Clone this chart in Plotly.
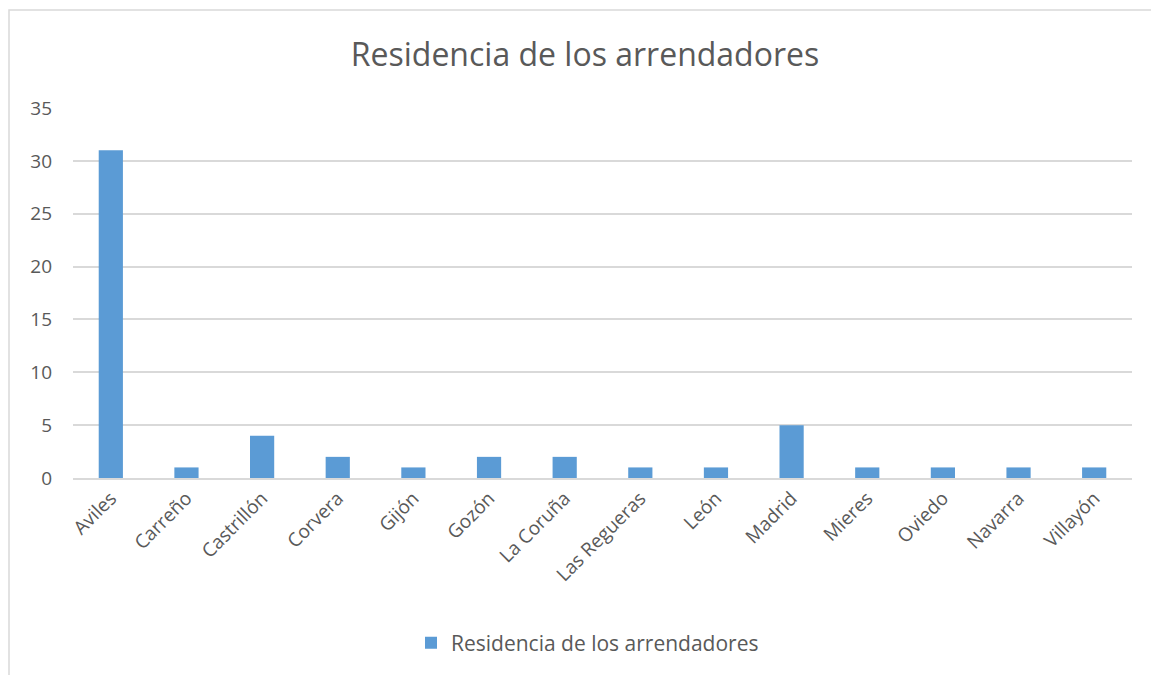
import plotly.graph_objects as go

categories = ["Aviles", "Carreño", "Castrillón", "Corvera", "Gijón", "Gozón", "La Coruña",
              "Las Regueras", "León", "Madrid", "Mieres", "Oviedo", "Navarra", "Villayón"]
values = [31, 1, 4, 2, 1, 2, 2, 1, 1, 5, 1, 1, 1, 1]
series_name = "Residencia de los arrendadores"
y_ticks = [0, 5, 10, 15, 20, 25, 30, 35]

# page body adds an 8px offset; figure coordinates compensate for it
W, H = 1151, 667
L, R, T, B = 65, 27, 100, 197
pw, ph = W - L - R, H - T - B

fig = go.Figure()
fig.add_trace(go.Bar(x=categories, y=values, name=series_name,
                     marker=dict(color="#5b9bd5", line=dict(width=0)),
                     width=0.32, showlegend=True))

font_family = "Open Sans, Noto Sans, sans-serif"
fig.update_layout(
    width=W, height=H, autosize=False,
    margin=dict(l=L, r=R, t=T, b=B),
    paper_bgcolor="white", plot_bgcolor="white",
    font=dict(family=font_family, color="#595959"),
    title=dict(text="Residencia de los arrendadores", x=(585 - 8) / W, xanchor="center",
               y=1 - 47 / H, yanchor="middle",
               font=dict(size=32, color="#595959", family=font_family)),
    showlegend=True,
    legend=dict(orientation="h", x=(403 - L) / pw, xanchor="left",
                y=-(635 - (T + ph)) / ph, yanchor="middle",
                font=dict(size=21, color="#595959"), itemwidth=30),
    xaxis=dict(tickangle=-45, tickfont=dict(size=19, color="#595959"),
               showline=True, linecolor="#d9d9d9", linewidth=1.5,
               showgrid=False, ticks=""),
    yaxis=dict(range=[0, 35], tickvals=y_ticks, tickfont=dict(size=19, color="#595959"),
               showgrid=True, gridcolor="#d9d9d9", gridwidth=1.5,
               zeroline=False, showline=False, ticks="", ticklabelstandoff=20),
    bargap=0.68,
)

# chart outer border (partially outside the picture, as in the reference)
fig.add_shape(type="rect", xref="paper", yref="paper",
              x0=(1 - L) / pw, x1=(W + 30 - L) / pw,
              y0=-(H + 30 - (T + ph)) / ph, y1=(T + ph - 2) / ph,
              line=dict(color="#d9d9d9", width=1.5), layer="below")

fig.write_html("out.html")
